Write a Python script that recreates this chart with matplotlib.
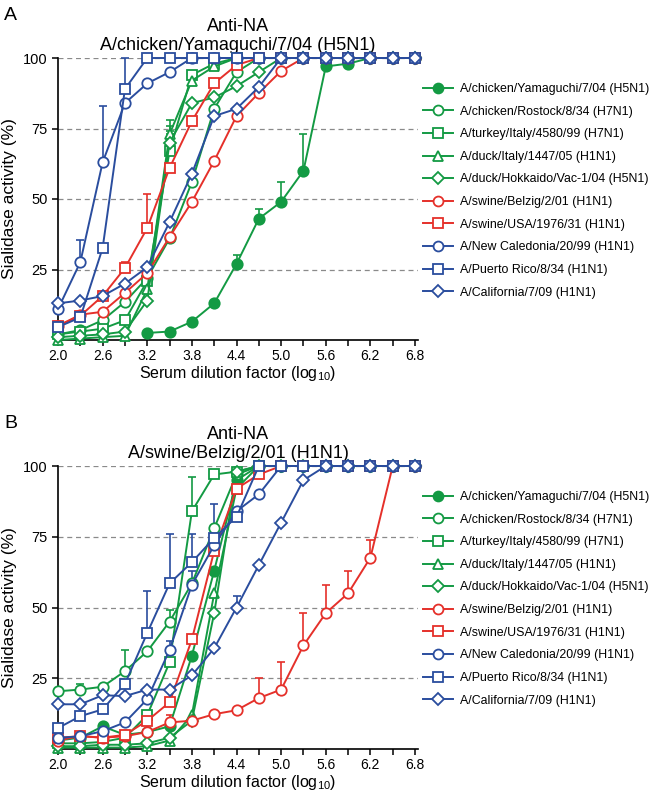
import numpy as np
import matplotlib
matplotlib.use("Agg")
import matplotlib.pyplot as plt
from matplotlib.lines import Line2D

plt.rcParams['font.family'] = ['Liberation Sans', 'DejaVu Sans']
plt.rcParams['mathtext.fontset'] = 'custom'
plt.rcParams['mathtext.rm'] = 'Liberation Sans'
plt.rcParams['mathtext.it'] = 'Liberation Sans:italic'
plt.rcParams['mathtext.default'] = 'rm'

nan = np.nan
dilution = [2.0, 2.3, 2.6, 2.9, 3.2, 3.5, 3.8, 4.1, 4.4, 4.7, 5.0, 5.3, 5.6, 5.9, 6.2, 6.5, 6.8]

strains = ["A/chicken/Yamaguchi/7/04 (H5N1)", "A/chicken/Rostock/8/34 (H7N1)",
           "A/turkey/Italy/4580/99 (H7N1)", "A/duck/Italy/1447/05 (H1N1)",
           "A/duck/Hokkaido/Vac-1/04 (H5N1)", "A/swine/Belzig/2/01 (H1N1)",
           "A/swine/USA/1976/31 (H1N1)", "A/New Caledonia/20/99 (H1N1)",
           "A/Puerto Rico/8/34 (H1N1)", "A/California/7/09 (H1N1)"]

# Panel A: anti-NA A/chicken/Yamaguchi/7/04 (H5N1)
a_yamaguchi = [nan, nan, nan, nan, 2.5, 3, 6.5, 13, 27, 43, 49, 60, 97, 98, 100, 100, 100]
a_rostock   = [2, 3.5, 7, 13.5, 22, 36, 56, 82, 95, 100, 100, 100, 100, 100, 100, 100, 100]
a_turkey    = [2, 3, 4, 7, 21, 67, 94, 98, 100, 100, 100, 100, 100, 100, 100, 100, 100]
a_duckit    = [0, 0.5, 1, 1.5, 18, 73, 92, 97, 100, 100, 100, 100, 100, 100, 100, 100, 100]
a_hokkaido  = [1, 1.5, 2, 3, 14, 70, 84, 86, 90, 95, 100, 100, 100, 100, 100, 100, 100]
a_belzig    = [5, 9, 10, 16.7, 23.7, 36.5, 49, 63.5, 79.4, 87.6, 95.4, 100, 100, 100, 100, 100, 100]
a_usa       = [5, 8.6, 15.6, 25.5, 39.7, 61, 77.6, 91, 97.5, 100, 100, 100, 100, 100, 100, 100, 100]
a_newcal    = [11, 27.6, 63, 84, 91, 95, 100, 100, 100, 100, 100, 100, 100, 100, 100, 100, 100]
a_pr        = [4.6, 8, 32.6, 89, 100, 100, 100, 100, 100, 100, 100, 100, 100, 100, 100, 100, 100]
a_calif     = [13, 14, 15.6, 20, 25.8, 41.8, 59, 79.4, 82, 89.7, 100, 100, 100, 100, 100, 100, 100]

a_err_yamaguchi = [0, 0, 0, 0, 0, 0, 0, 0, 3, 3.5, 7, 13, 0, 0, 0, 0, 0]
a_err_rostock   = [0] * 17
a_err_turkey    = [0, 0, 0, 0, 0, 7, 0, 0, 0, 0, 0, 0, 0, 0, 0, 0, 0]
a_err_duckit    = [0, 0, 0, 0, 0, 5, 0, 0, 0, 0, 0, 0, 0, 0, 0, 0, 0]
a_err_hokkaido  = [0, 0, 0, 0, 0, 6, 0, 0, 0, 0, 0, 0, 0, 0, 0, 0, 0]
a_err_belzig    = [0] * 17
a_err_usa       = [0, 0, 0, 2, 12, 0, 0, 0, 0, 0, 0, 0, 0, 0, 0, 0, 0]
a_err_newcal    = [0, 8, 20, 0, 0, 0, 0, 0, 0, 0, 0, 0, 0, 0, 0, 0, 0]
a_err_pr        = [0, 0, 1.5, 11, 0, 0, 0, 0, 0, 0, 0, 0, 0, 0, 0, 0, 0]
a_err_calif     = [0] * 17

# Panel B: anti-NA A/swine/Belzig/2/01 (H1N1)
b_yamaguchi = [3, 4, 8, 5, 6, 8, 33, 63, 95, 100, 100, 100, 100, 100, 100, 100, 100]
b_rostock   = [20.4, 21, 22, 27.5, 34.5, 45, 58.5, 78, 97, 100, 100, 100, 100, 100, 100, 100, 100]
b_turkey    = [2, 2, 2.5, 4, 12, 30.6, 84, 97, 98, 100, 100, 100, 100, 100, 100, 100, 100]
b_duckit    = [0.5, 0.5, 0.5, 0.5, 1, 3, 12, 55, 92, 100, 100, 100, 100, 100, 100, 100, 100]
b_hokkaido  = [1, 1, 1.5, 1.5, 2, 4, 10, 48, 98, 100, 100, 100, 100, 100, 100, 100, 100]
b_belzig    = [3, 4.6, 4, 4.5, 6, 9.4, 10, 12.3, 13.7, 18, 21, 36.6, 48, 55, 67.6, 100, 100]
b_usa       = [4, 4.5, 4, 5, 10, 16.5, 38.7, 70, 92, 97, 100, 100, 100, 100, 100, 100, 100]
b_newcal    = [3.9, 4.5, 6.3, 9.4, 17.6, 35, 58, 72, 84, 90, 100, 100, 100, 100, 100, 100, 100]
b_pr        = [7.4, 11.6, 14, 23, 41, 58.5, 66, 74.6, 82, 100, 100, 100, 100, 100, 100, 100, 100]
b_calif     = [15.8, 15.8, 19, 18.7, 21, 21, 26, 35.6, 50, 65, 80, 95, 100, 100, 100, 100, 100]

b_err_yamaguchi = [0] * 17
b_err_rostock   = [0, 2, 0, 7.5, 0, 4, 0, 0, 0, 0, 0, 0, 0, 0, 0, 0, 0]
b_err_turkey    = [0, 0, 0, 0, 0, 0, 12, 0, 0, 0, 0, 0, 0, 0, 0, 0, 0]
b_err_duckit    = [0] * 17
b_err_hokkaido  = [0] * 17
b_err_belzig    = [0, 0, 0, 0, 0, 2.6, 0, 0, 0, 7, 9.6, 11.4, 10, 8, 6.4, 0, 0]
b_err_usa       = [0] * 17
b_err_newcal    = [0, 0, 0, 0, 0, 3, 5, 0, 0, 0, 0, 0, 0, 0, 0, 0, 0]
b_err_pr        = [0, 0, 0, 0, 15, 17.5, 10, 12, 0, 0, 0, 0, 0, 0, 0, 0, 0]
b_err_calif     = [0, 0, 0, 0, 0, 0, 0, 0, 4, 0, 0, 0, 0, 0, 0, 0, 0]

yticks = [25, 50, 75, 100]
xticks_major = [2.0, 2.6, 3.2, 3.8, 4.4, 5.0, 5.6, 6.2, 6.8]

GREEN = '#139a43'
RED = '#e5302a'
BLUE = '#2a4d9e'
colors = [GREEN, GREEN, GREEN, GREEN, GREEN, RED, RED, BLUE, BLUE, BLUE]
markers = ['o', 'o', 's', '^', 'D', 'o', 's', 'o', 's', 'D']
filled = [True] + [False] * 9
msizes = [7.5, 7.5, 7, 7.5, 6, 7.5, 7, 7.5, 7, 6]

panels = [
    ("A", "A/chicken/Yamaguchi/7/04 (H5N1)",
     [a_yamaguchi, a_rostock, a_turkey, a_duckit, a_hokkaido, a_belzig, a_usa, a_newcal, a_pr, a_calif],
     [a_err_yamaguchi, a_err_rostock, a_err_turkey, a_err_duckit, a_err_hokkaido, a_err_belzig,
      a_err_usa, a_err_newcal, a_err_pr, a_err_calif]),
    ("B", "A/swine/Belzig/2/01 (H1N1)",
     [b_yamaguchi, b_rostock, b_turkey, b_duckit, b_hokkaido, b_belzig, b_usa, b_newcal, b_pr, b_calif],
     [b_err_yamaguchi, b_err_rostock, b_err_turkey, b_err_duckit, b_err_hokkaido, b_err_belzig,
      b_err_usa, b_err_newcal, b_err_pr, b_err_calif]),
]

W, H = 650, 794
fig = plt.figure(figsize=(W / 100, H / 100), dpi=100)

ax_rects = [(58, 58, 418, 340), (58, 466, 418, 749)]

for (label, virus, series, errs), (x0, y0, x1, y1) in zip(panels, ax_rects):
    ax = fig.add_axes([x0 / W, 1 - y1 / H, (x1 - x0) / W, (y1 - y0) / H])
    ax.set_xlim(2.0, 6.84)
    ax.set_ylim(0, 100)
    for yv in yticks:
        ax.axhline(yv, color='#8a8a8a', lw=0.9, ls=(0, (4, 3)), zorder=0)
    handles = []
    for i in range(10):
        y = np.array(series[i], dtype=float)
        e = np.array(errs[i], dtype=float)
        x = np.array(dilution)
        mfc = colors[i] if filled[i] else 'white'
        mask = e > 0
        if mask.any():
            ax.errorbar(x[mask], y[mask], yerr=[np.zeros(mask.sum()), e[mask]], fmt='none',
                        ecolor=colors[i], elinewidth=1.2, capsize=3.2, capthick=1.2,
                        zorder=2 + i * 0.1, clip_on=False)
        ax.plot(x, y, color=colors[i], lw=1.4, marker=markers[i], ms=msizes[i],
                mfc=mfc, mec=colors[i], mew=1.3, zorder=3 + i * 0.1, clip_on=False)
        handles.append(Line2D([], [], color=colors[i], lw=1.4, marker=markers[i],
                              ms=msizes[i] * 0.95, mfc=mfc, mec=colors[i], mew=1.3))
    for s in ['top', 'right']:
        ax.spines[s].set_visible(False)
    ax.spines['left'].set_linewidth(1.2)
    ax.spines['bottom'].set_linewidth(1.2)
    ax.set_yticks(yticks)
    ax.set_yticklabels([str(v) for v in yticks], fontsize=10.5)
    ax.set_xticks(xticks_major)
    ax.set_xticklabels([f"{v:.1f}" for v in xticks_major], fontsize=10)
    ax.set_xticks(dilution, minor=True)
    ax.tick_params(axis='both', which='both', direction='out', length=4, width=1.1)
    ax.tick_params(axis='x', which='major', pad=2.5)
    ax.set_xlabel("Serum dilution factor (log$_{10}$)", fontsize=11.5, labelpad=1)
    ax.set_ylabel("Sialidase activity (%)", fontsize=12.5, labelpad=4)
    ax.set_title("Anti-NA\n" + virus, fontsize=13, pad=6, linespacing=1.15)
    fig.text(4 / W, 1 - (y0 - 43) / H, label, fontsize=14, ha='left', va='center')
    leg = fig.legend(handles, strains, loc='upper left',
                     bbox_to_anchor=(418 / W, 1 - (y0 + 20) / H),
                     frameon=False, fontsize=8.9, handlelength=2.4, handletextpad=0.6,
                     labelspacing=0.86, borderaxespad=0)

fig.savefig("out.png", dpi=100)
